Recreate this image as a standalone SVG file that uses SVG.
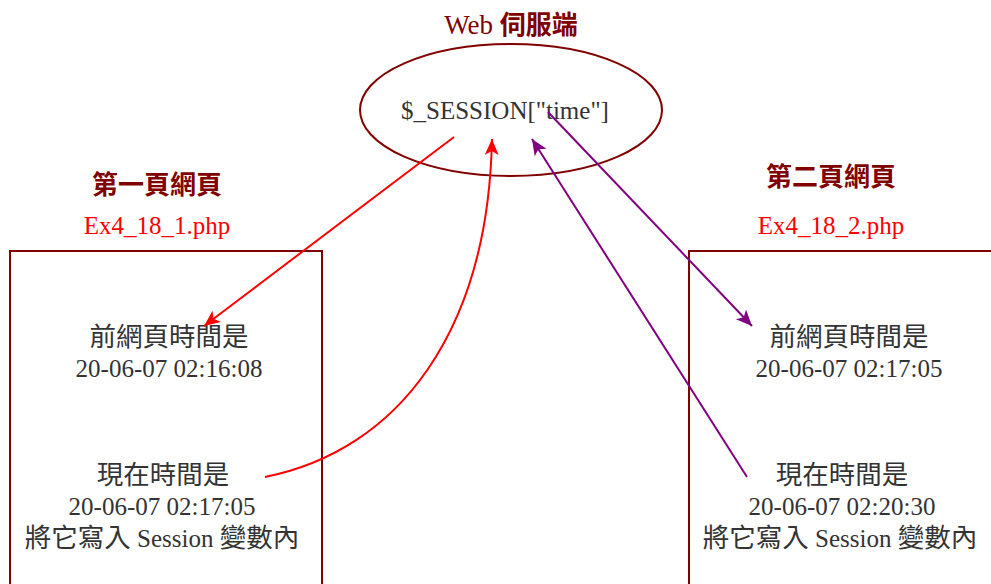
<svg xmlns="http://www.w3.org/2000/svg" width="991" height="584" viewBox="0 0 991 584">
<defs>
<style>
.title{font-family:"Liberation Serif","Noto Sans CJK TC",serif;font-size:26px;fill:#800000;font-weight:bold;text-anchor:middle}
.file{font-family:"Liberation Serif","Noto Sans CJK TC",serif;font-size:25px;fill:#ff0000;text-anchor:middle}
.body{font-family:"Liberation Serif","Noto Sans CJK TC",serif;font-size:25px;fill:#333333;text-anchor:middle}
.cjk{font-size:26.5px}
.frame{fill:none;stroke:#800000;stroke-width:2}
.red{fill:none;stroke:#ff0000;stroke-width:2}
.purple{fill:none;stroke:#800080;stroke-width:2}
</style>
<marker id="ahRed" markerUnits="userSpaceOnUse" markerWidth="18" markerHeight="16" refX="16" refY="7" orient="auto">
<path d="M0,0 L16,7 L0,14 L4,7 z" fill="#ff0000"/>
</marker>
<marker id="ahPurple" markerUnits="userSpaceOnUse" markerWidth="18" markerHeight="16" refX="16" refY="7" orient="auto">
<path d="M0,0 L16,7 L0,14 L4,7 z" fill="#800080"/>
</marker>
</defs>
<rect width="991" height="584" fill="#ffffff"/>

<g id="server">
<text class="title" x="511" y="34"><tspan style="font-weight:normal;font-size:27px">Web </tspan>伺服端</text>
<ellipse class="frame" cx="511" cy="110" rx="151" ry="66"/>
<text class="body" x="505" y="119">$_SESSION["time"]</text>
</g>

<g id="page1">
<text class="title" x="157" y="194">第一頁網頁</text>
<text class="file" x="157" y="234">Ex4_18_1.php</text>
<rect class="frame" x="10" y="251" width="312" height="345"/>
<text class="body cjk" x="169" y="346">前網頁時間是</text>
<text class="body" x="169" y="377">20-06-07 02:16:08</text>
<text class="body cjk" x="163" y="484">現在時間是</text>
<text class="body" x="162" y="515">20-06-07 02:17:05</text>
<text class="body" x="162" y="547"><tspan class="cjk">將它寫入</tspan> Session <tspan class="cjk">變數內</tspan></text>
</g>

<g id="page2">
<text class="title" x="831" y="186">第二頁網頁</text>
<text class="file" x="831" y="234">Ex4_18_2.php</text>
<rect class="frame" x="689" y="251" width="320" height="345"/>
<text class="body cjk" x="849" y="346">前網頁時間是</text>
<text class="body" x="849" y="377">20-06-07 02:17:05</text>
<text class="body cjk" x="842" y="484">現在時間是</text>
<text class="body" x="842" y="515">20-06-07 02:20:30</text>
<text class="body" x="840" y="547"><tspan class="cjk">將它寫入</tspan> Session <tspan class="cjk">變數內</tspan></text>
</g>

<g id="connectors">
<line class="red" x1="454" y1="137" x2="204" y2="326" marker-end="url(#ahRed)"/>
<path class="red" d="M265,477 C400,450 488,330 492,139" marker-end="url(#ahRed)"/>
<line class="purple" x1="747" y1="477" x2="532" y2="139" marker-end="url(#ahPurple)"/>
<line class="purple" x1="548" y1="112" x2="752" y2="326" marker-end="url(#ahPurple)"/>
</g>
</svg>
